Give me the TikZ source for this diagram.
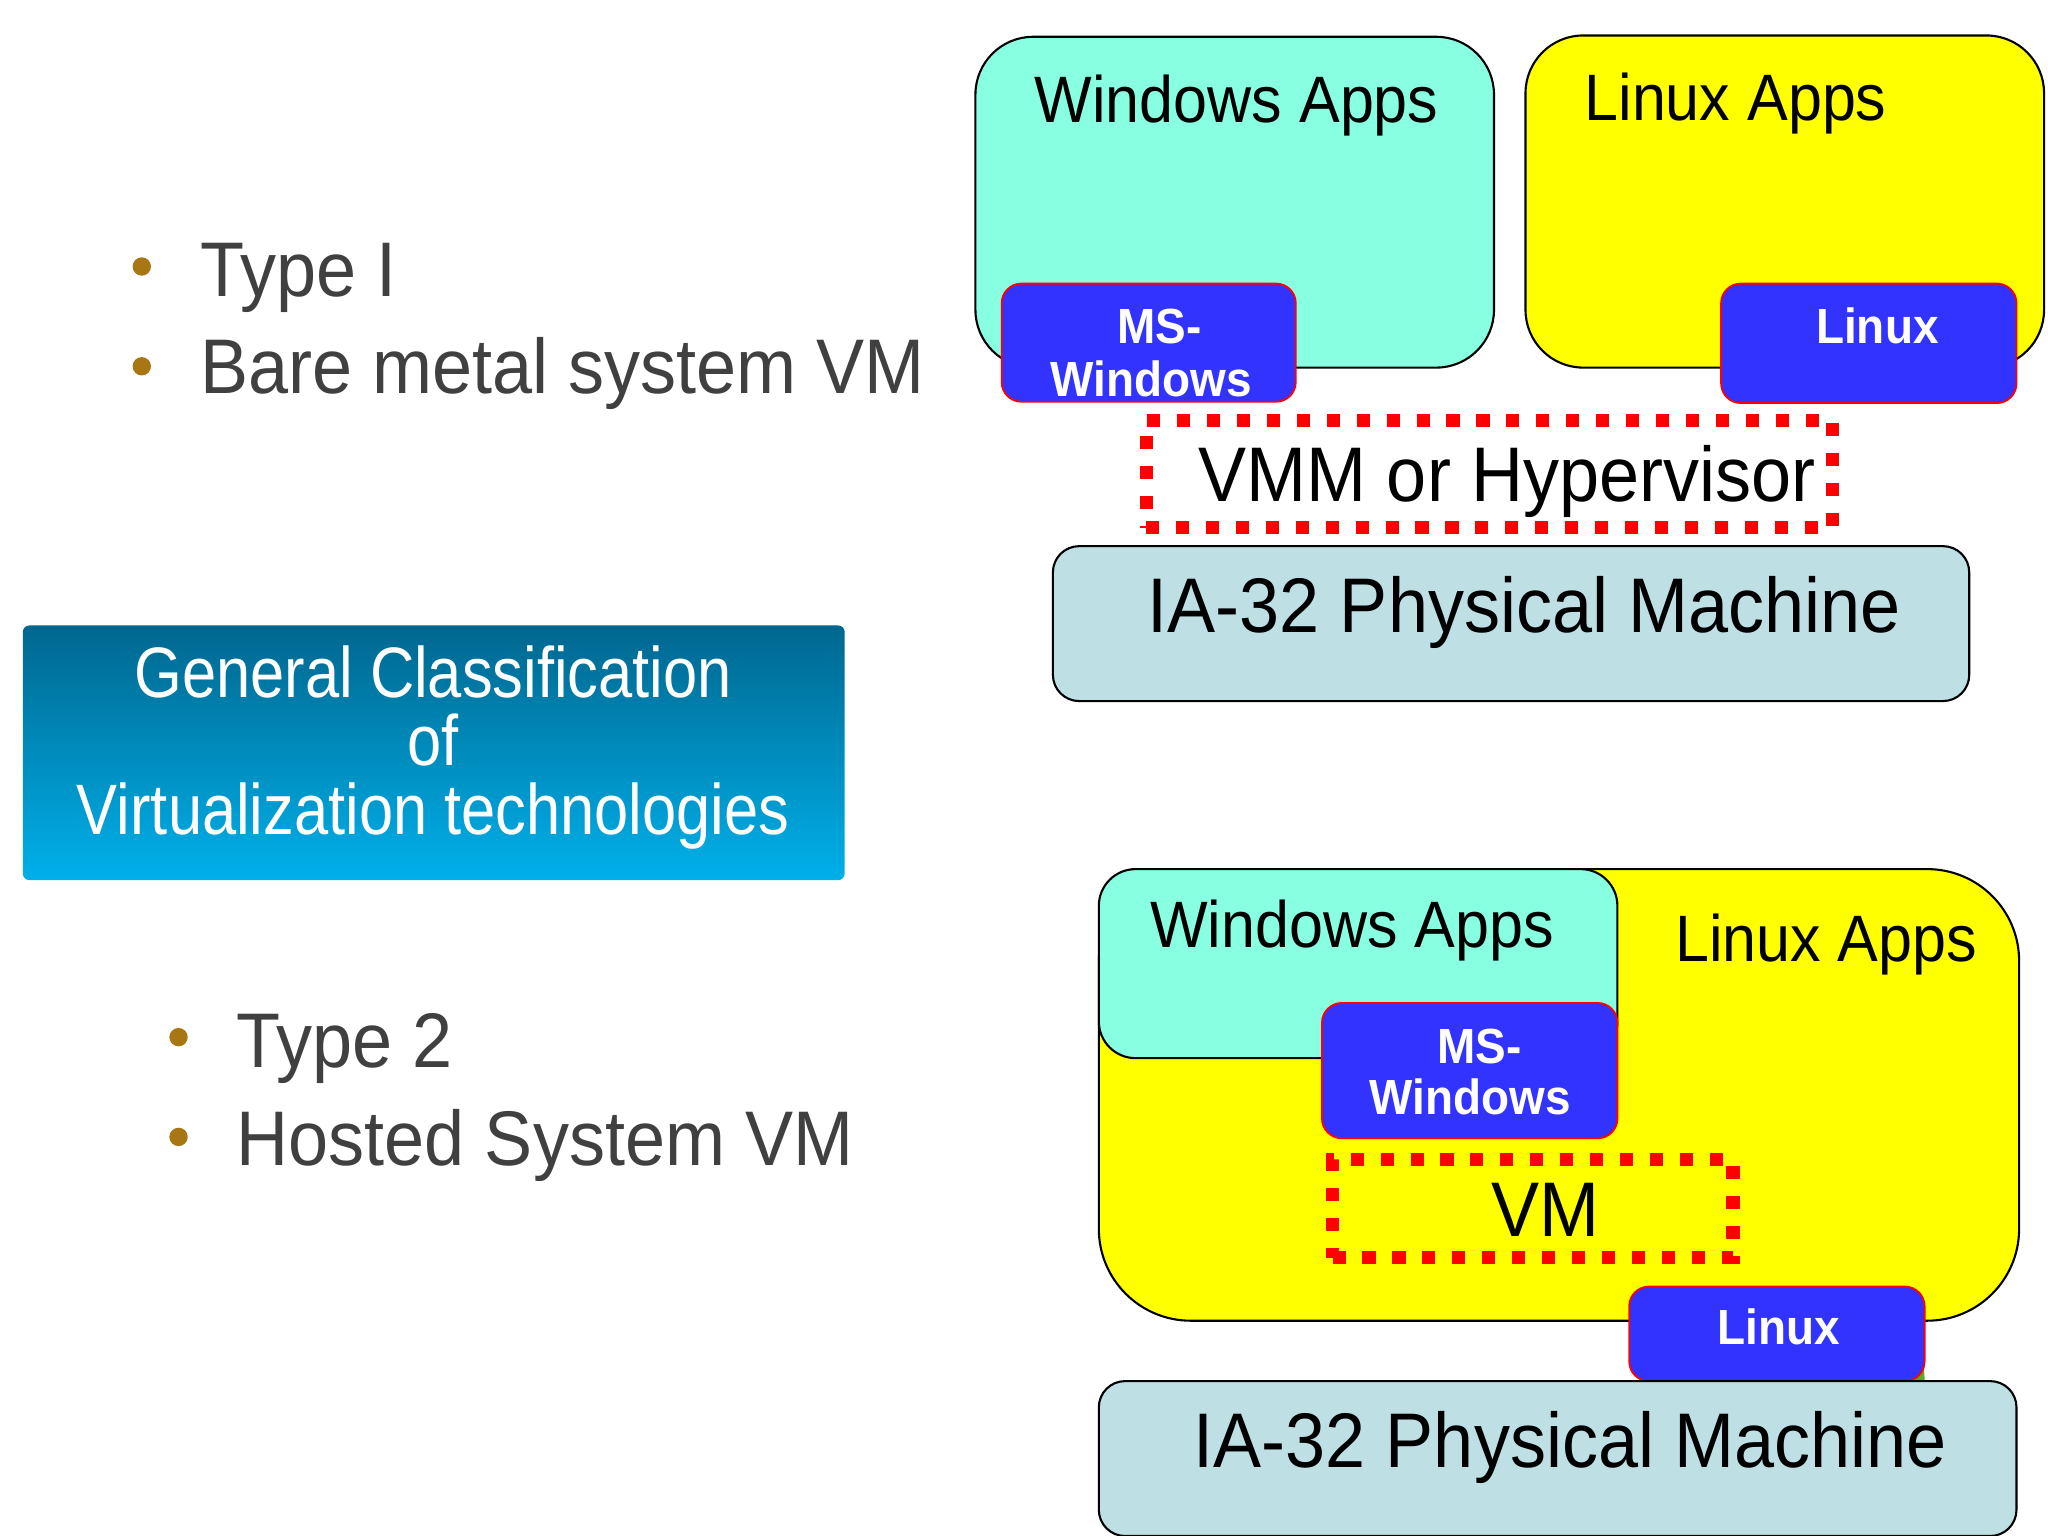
\documentclass[tikz,border=0pt]{standalone}
\usepackage{fontspec}
\setmainfont{Liberation Sans}
\usepackage{graphicx}
\definecolor{teal1}{RGB}{136,255,224}
\definecolor{yel1}{RGB}{255,255,0}
\definecolor{blu1}{RGB}{51,51,255}
\definecolor{ia1}{RGB}{190,224,228}
\definecolor{bul1}{RGB}{168,118,18}
\definecolor{gray1}{RGB}{64,64,64}
\definecolor{gtop}{RGB}{0,103,143}
\definecolor{gbot}{RGB}{0,176,234}
\definecolor{grn1}{RGB}{90,170,40}
\newcommand{\sq}[1]{\scalebox{0.93}[1]{#1}}
\newcommand{\sqq}[1]{\scalebox{0.86}[1]{#1}}
\begin{document}
\begin{tikzpicture}[x=0.5pt,y=-0.5pt,
  shp/.style={draw=black,line width=0.8pt,anchor=north west,inner sep=0pt,outer sep=0pt},
  osbox/.style={draw=red,line width=0.7pt,fill=blu1,anchor=north west,inner sep=0pt,outer sep=0pt,rounded corners=7.5pt},
  dotbox/.style={draw=red,line width=5pt,dash pattern=on 5pt off 6.4pt,anchor=north west,inner sep=0pt,outer sep=0pt},
  big/.style={anchor=base,inner sep=0pt,font=\fontsize{29.5}{34}\selectfont},
  mid/.style={anchor=base,inner sep=0pt,font=\fontsize{25}{30}\selectfont},
  osl/.style={anchor=base,inner sep=0pt,text=white,font=\bfseries\fontsize{18.8}{22}\selectfont},
  bl/.style={anchor=base west,inner sep=0pt,text=gray1,font=\fontsize{29.5}{34}\selectfont},
  dot/.style={circle,fill=bul1,inner sep=0pt,minimum size=7pt},
  gt/.style={anchor=base,inner sep=0pt,text=white,font=\fontsize{27.2}{32}\selectfont}]
\useasboundingbox[fill=white] (0,0) rectangle (1560,1169.3);

% ---------- left side ----------
\node[dot] (b1) at (108,203) {};
\node[bl] (t1) at (152,226) {\sq{Type I}};
\node[dot] (b2) at (108,279) {};
\node[bl] (t2) at (152,300) {\sq{Bare metal system VM}};

\node[anchor=north west,inner sep=0pt,minimum width=313pt,minimum height=97pt,
      rounded corners=2.5pt,top color=gtop,bottom color=gbot] (gc) at (17,476) {};
\node[gt] (g1) at (330,531) {\sqq{General Classification}};
\node[gt] (g2) at (330,583) {\sqq{of}};
\node[gt] (g3) at (330,636) {\sqq{Virtualization technologies}};

\node[dot] (b3) at (136,790) {};
\node[bl] (t3) at (180,813) {\sq{Type 2}};
\node[dot] (b4) at (136,866) {};
\node[bl] (t4) at (180,888) {\sq{Hosted System VM}};

% ---------- top diagram (Type I) ----------
\node[shp,fill=teal1,rounded corners=22pt,minimum width=197.5pt,minimum height=126pt] (wa1) at (743,28) {};
\node[shp,fill=yel1,rounded corners=22pt,minimum width=197.5pt,minimum height=126.5pt] (la1) at (1162,27) {};
\node[mid] (wa1t) at (942,93) {\sq{Windows Apps}};
\node[mid] (la1t) at (1322,92) {\sq{Linux Apps}};
\node[osbox,minimum width=112pt,minimum height=45pt] (ms1) at (763,216) {};
\node[osl] (ms1a) at (883,262) {\sq{MS-}};
\node[osl] (ms1b) at (877,302) {\sq{Windows}};
\node[osbox,minimum width=112.5pt,minimum height=45.5pt] (lx1) at (1311,216) {};
\node[osl] (lx1t) at (1430,262) {\sq{Linux}};
\node[dotbox,minimum width=261.5pt,minimum height=41pt] (vmm) at (873,320) {};
\node[big] (vmmt) at (1148,382) {\sq{VMM or Hypervisor}};
\node[shp,fill=ia1,rounded corners=10pt,minimum width=349pt,minimum height=59pt] (ia1n) at (802,416) {};
\node[big] (ia1t) at (1161,482) {\sq{IA-32 Physical Machine}};

% ---------- bottom diagram (Type 2) ----------
\fill[grn1] (1452,1012) .. controls (1462,1022) and (1466,1038) .. (1466,1052) -- (1452,1052) -- cycle;
\node[shp,fill=yel1,rounded corners=35pt,minimum width=350.5pt,minimum height=172pt] (la2) at (837,662) {};
\node[shp,fill=teal1,rounded corners=14pt,minimum width=197.5pt,minimum height=72pt] (wa2) at (837,662) {};
\node[mid] (wa2t) at (1030,722) {\sq{Windows Apps}};
\node[mid] (la2t) at (1391,732) {\sq{Linux Apps}};
\node[osbox,minimum width=112.5pt,minimum height=51.5pt] (ms2) at (1007,764) {};
\node[osl] (ms2a) at (1127,810) {\sq{MS-}};
\node[osl] (ms2b) at (1120,849) {\sq{Windows}};
\node[dotbox,minimum width=152.5pt,minimum height=37.5pt] (vm) at (1015,883) {};
\node[big] (vmt) at (1177,942) {\sq{VM}};
\node[osbox,minimum width=112.5pt,minimum height=36pt] (lx2) at (1241,980) {};
\node[osl] (lx2t) at (1355,1024) {\sq{Linux}};
\node[shp,fill=ia1,rounded corners=10pt,minimum width=349.5pt,minimum height=59pt] (ia2n) at (837,1052) {};
\node[big] (ia2t) at (1196,1118) {\sq{IA-32 Physical Machine}};
\end{tikzpicture}
\end{document}
